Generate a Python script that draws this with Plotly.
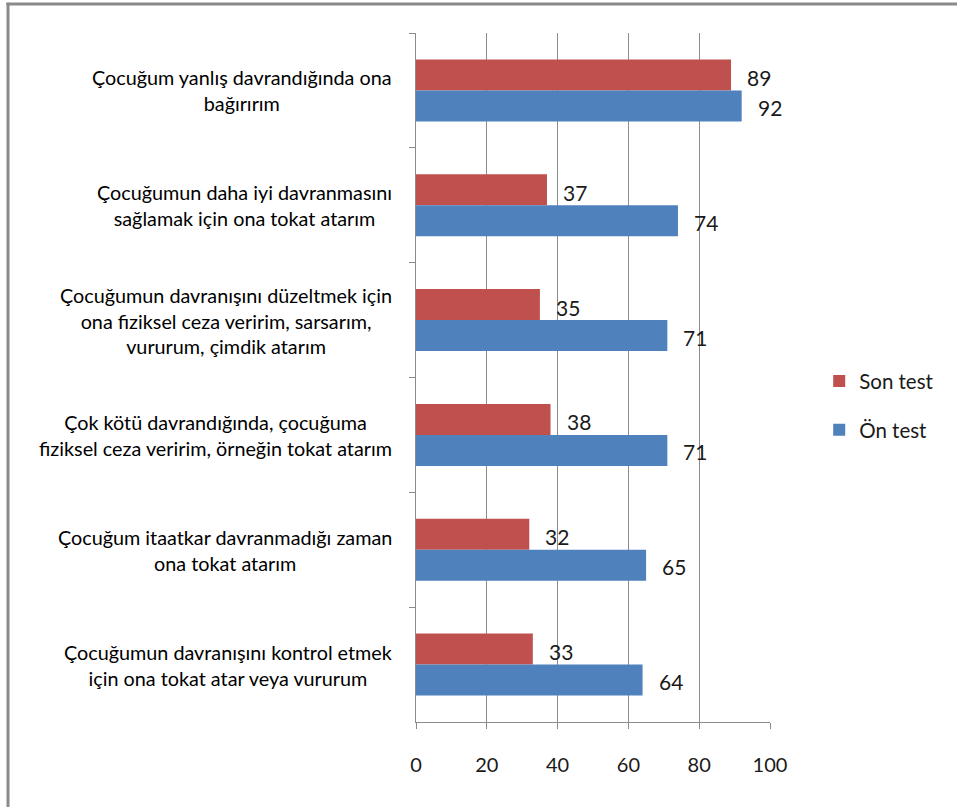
import plotly.graph_objects as go

categories = [
    "Çocuğum yanlış davrandığında ona<br>bağırırım",
    "Çocuğumun daha iyi davranmasını<br>sağlamak için ona tokat atarım",
    "Çocuğumun davranışını düzeltmek için<br>ona fiziksel ceza veririm, sarsarım,<br>vururum, çimdik atarım",
    "Çok kötü davrandığında, çocuğuma<br>fiziksel ceza veririm, örneğin tokat atarım",
    "Çocuğum itaatkar davranmadığı zaman<br>ona tokat atarım",
    "Çocuğumun davranışını kontrol etmek<br>için ona tokat atar veya vururum",
]
son_test = [89, 37, 35, 38, 32, 33]
on_test = [92, 74, 71, 71, 65, 64]
x_ticks = [0, 20, 40, 60, 80, 100]

FONT = "Lato"
RED = "#C0504D"
BLUE = "#4F81BD"
GRID = "#8C8C8C"

fig = go.Figure()
fig.add_trace(go.Bar(y=categories, x=son_test, orientation="h", name="Son test",
                     marker=dict(color=RED, line=dict(width=0)), legendgroup="a"))
fig.add_trace(go.Bar(y=categories, x=on_test, orientation="h", name="Ön test",
                     marker=dict(color=BLUE, line=dict(width=0)), legendgroup="b"))

annotations = []
for i, c in enumerate(categories):
    annotations.append(dict(x=-0.062, xref="paper", y=c, yref="y", text=c, showarrow=False,
                            xanchor="right", align="center",
                            font=dict(family=FONT, size=19.8, color="#000000")))
# data labels
for i, c in enumerate(categories):
    annotations.append(dict(x=son_test[i], y=c, xref="x", yref="y", text=str(son_test[i]),
                            showarrow=False, xanchor="left", xshift=14, yshift=13,
                            font=dict(family=FONT, size=21, color="#1a1a1a")))
    annotations.append(dict(x=on_test[i], y=c, xref="x", yref="y", text=str(on_test[i]),
                            showarrow=False, xanchor="left", xshift=14, yshift=-17,
                            font=dict(family=FONT, size=21, color="#1a1a1a")))

BORDER = "#8A8A8A"
fig.update_layout(
    width=957, height=807,
    margin=dict(l=416, r=187, t=33, b=85),
    paper_bgcolor="white", plot_bgcolor="white",
    barmode="group", bargap=0.46, bargroupgap=0,
    showlegend=True,
    legend=dict(x=1.139, y=0.459, xanchor="left", yanchor="middle",
                font=dict(family=FONT, size=20.5, color="#1a1a1a"),
                tracegroupgap=19, traceorder="grouped", itemwidth=30),
    annotations=annotations,
    shapes=[
        dict(type="line", xref="paper", yref="paper", x0=-1.1525, x1=-1.1525, y0=-0.2, y1=1.044,
             line=dict(color=BORDER, width=3), layer="below"),
        dict(type="line", xref="paper", yref="paper", x0=-1.157, x1=1.7, y0=1.042, y1=1.042,
             line=dict(color=BORDER, width=3), layer="below"),
    ],
    xaxis=dict(range=[0, 100], tickvals=x_ticks, ticktext=[str(v) for v in x_ticks],
               showgrid=True, gridcolor=GRID, gridwidth=1,
               showline=True, linecolor=GRID, linewidth=1,
               ticks="outside", ticklen=6, tickcolor=GRID,
               tickfont=dict(family=FONT, size=20, color="#1a1a1a"),
               ticklabelstandoff=19, zeroline=False, fixedrange=True),
    yaxis=dict(autorange="reversed", type="category", showticklabels=False,
               tickson="boundaries", ticks="outside", ticklen=6, tickcolor=GRID,
               showline=True, linecolor=GRID, linewidth=1, showgrid=False,
               zeroline=False),
)

fig.write_html("out.html", config={"displayModeBar": False},
               post_script="document.body.style.margin='0';document.body.style.overflow='hidden';")
